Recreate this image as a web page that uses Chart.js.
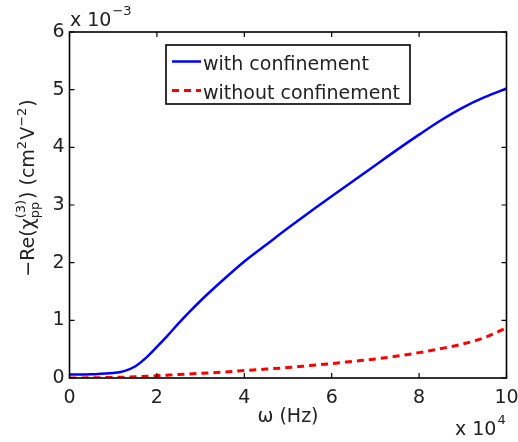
<!DOCTYPE html>
<html>
<head>
<meta charset="utf-8">
<script src="https://cdn.jsdelivr.net/npm/chart.js@4/dist/chart.umd.min.js"></script>
<style>
  html, body { margin: 0; padding: 0; background: #fff; }
  canvas { display: block; }
</style>
</head>
<body>
<canvas id="chart" width="518" height="442"></canvas>
<script>
// data (omega in units of 1e4 Hz, chi in units of 1e-3)
var omega = [0, 0.5, 1.0, 1.25, 1.5, 1.75, 2.0, 2.25, 2.5, 2.75, 3.0, 3.5, 4.0, 4.5, 5.0, 5.5, 6.0, 6.5, 7.0, 7.5, 8.0, 8.5, 9.0, 9.5, 10.0];
var withConfinement = [0.06, 0.065, 0.085, 0.12, 0.2, 0.35, 0.54, 0.74, 0.95, 1.15, 1.34, 1.69, 2.02, 2.31, 2.60, 2.88, 3.15, 3.42, 3.69, 3.96, 4.22, 4.47, 4.69, 4.87, 5.02];
var withoutConfinement = [0.0, 0.004, 0.01, 0.015, 0.02, 0.03, 0.04, 0.05, 0.06, 0.07, 0.08, 0.10, 0.13, 0.155, 0.18, 0.215, 0.25, 0.29, 0.33, 0.38, 0.44, 0.51, 0.59, 0.70, 0.87];
var seriesNames = ['with confinement', 'without confinement'];
var xTicks = [0, 2, 4, 6, 8, 10];
var yTicks = [0, 1, 2, 3, 4, 5, 6];

var FONT = '"DejaVu Sans", sans-serif';

function toPoints(ys) {
    return omega.map(function (x, i) { return { x: x, y: ys[i] }; });
}

// рамка, внутренние засечки, легенда и подписи осей в стиле matlab
var matlabAxes = {
    id: 'matlabAxes',
    afterDatasetsDraw: function (chart) {
        var ctx = chart.ctx;
        var a = chart.chartArea;
        var xs = chart.scales.x, ys = chart.scales.y;
        ctx.save();
        ctx.strokeStyle = '#000';
        ctx.lineWidth = 1.6;
        ctx.strokeRect(a.left, a.top, a.right - a.left, a.bottom - a.top);
        ctx.lineWidth = 1.2;
        ctx.beginPath();
        xTicks.forEach(function (v) {
            var px = xs.getPixelForValue(v);
            ctx.moveTo(px, a.bottom); ctx.lineTo(px, a.bottom - 5);
            ctx.moveTo(px, a.top); ctx.lineTo(px, a.top + 5);
        });
        yTicks.forEach(function (v) {
            var py = ys.getPixelForValue(v);
            ctx.moveTo(a.left, py); ctx.lineTo(a.left + 5, py);
            ctx.moveTo(a.right, py); ctx.lineTo(a.right - 5, py);
        });
        ctx.stroke();

        // legend
        var lx = 166, ly = 45, lw = 244, lh = 59;
        ctx.fillStyle = '#fff';
        ctx.fillRect(lx, ly, lw, lh);
        ctx.lineWidth = 1.6;
        ctx.strokeRect(lx, ly, lw, lh);
        var rows = [61.5, 90.5];
        chart.data.datasets.forEach(function (ds, i) {
            ctx.beginPath();
            ctx.strokeStyle = ds.borderColor;
            ctx.lineWidth = ds.borderWidth;
            ctx.setLineDash(ds.borderDash || []);
            ctx.moveTo(172, rows[i]);
            ctx.lineTo(201, rows[i]);
            ctx.stroke();
            ctx.setLineDash([]);
            ctx.fillStyle = '#222';
            ctx.font = '19px ' + FONT;
            ctx.textBaseline = 'alphabetic';
            ctx.textAlign = 'left';
            ctx.fillText(ds.label, 203, rows[i] + 8);
        });

        // exponent labels
        ctx.fillStyle = '#222';
        ctx.font = '19px ' + FONT;
        ctx.fillText('x 10', 70, 26);
        var w = ctx.measureText('x 10').width;
        ctx.font = '13px ' + FONT;
        ctx.fillText('\u22123', 70 + w + 1, 15);

        ctx.font = '19px ' + FONT;
        ctx.fillText('x 10', 455, 435);
        w = ctx.measureText('x 10').width;
        ctx.font = '13px ' + FONT;
        ctx.fillText('4', 455 + w + 1, 424);

        // x title
        ctx.font = '19px ' + FONT;
        ctx.textAlign = 'center';
        ctx.fillText('\u03c9 (Hz)', (a.left + a.right) / 2, 422);

        // y title with sub/superscripts
        var big = '19px ' + FONT, small = '13px ' + FONT;
        var parts = [
            { t: '\u2212Re(\u03c7', f: big, dy: 0 },
            { t: '(3)', f: small, dy: -9, sub: 'pp' },
            { t: ') (cm', f: big, dy: 0 },
            { t: '2', f: small, dy: -8 },
            { t: 'V', f: big, dy: 0 },
            { t: '\u22122', f: small, dy: -8 },
            { t: ')', f: big, dy: 0 }
        ];
        var total = 0;
        parts.forEach(function (p) {
            ctx.font = p.f;
            p.w = ctx.measureText(p.t).width;
            if (p.sub) p.w = Math.max(p.w, ctx.measureText(p.sub).width);
            total += p.w + (p.f === small ? 1 : 0);
        });
        ctx.translate(34, 188);
        ctx.rotate(-Math.PI / 2);
        ctx.textAlign = 'left';
        var cx = -total / 2;
        parts.forEach(function (p) {
            ctx.font = p.f;
            ctx.fillText(p.t, cx, p.dy);
            if (p.sub) ctx.fillText(p.sub, cx, 5);
            cx += p.w + (p.f === small ? 1 : 0);
        });
        ctx.restore();
    }
};

var config = {
    type: 'line',
    data: {
        datasets: [{
            label: seriesNames[0],
            data: toPoints(withConfinement),
            borderColor: '#0000ff',
            borderWidth: 2.5,
            pointRadius: 0,
            cubicInterpolationMode: 'monotone',
            fill: false
        }, {
            label: seriesNames[1],
            data: toPoints(withoutConfinement),
            borderColor: '#ff0000',
            borderWidth: 3,
            borderDash: [7, 5],
            pointRadius: 0,
            cubicInterpolationMode: 'monotone',
            fill: false
        }]
    },
    options: {
        responsive: false,
        animation: false,
        devicePixelRatio: 1,
        layout: { padding: { left: 0, right: 11.5, top: 32, bottom: 0 } },
        plugins: { legend: { display: false }, tooltip: { enabled: false } },
        scales: {
            x: {
                type: 'linear', min: 0, max: 10,
                afterFit: function (s) { s.height = 64; s.paddingLeft = 0; s.paddingRight = 0; },
                afterBuildTicks: function (s) { s.ticks = xTicks.map(function (v) { return { value: v }; }); },
                grid: { display: false, drawTicks: false },
                border: { display: false },
                ticks: { color: '#222', padding: 9, font: { family: FONT, size: 19 }, maxRotation: 0 }
            },
            y: {
                type: 'linear', min: 0, max: 6,
                afterFit: function (s) { s.width = 69.5; s.paddingTop = 0; s.paddingBottom = 0; },
                afterBuildTicks: function (s) { s.ticks = yTicks.map(function (v) { return { value: v }; }); },
                grid: { display: false, drawTicks: false },
                border: { display: false },
                ticks: { color: '#222', padding: 5, font: { family: FONT, size: 19 } }
            }
        }
    },
    plugins: [matlabAxes]
};

var ctx = document.getElementById('chart').getContext('2d');
window.myChart = new Chart(ctx, config);
</script>
</body>
</html>
